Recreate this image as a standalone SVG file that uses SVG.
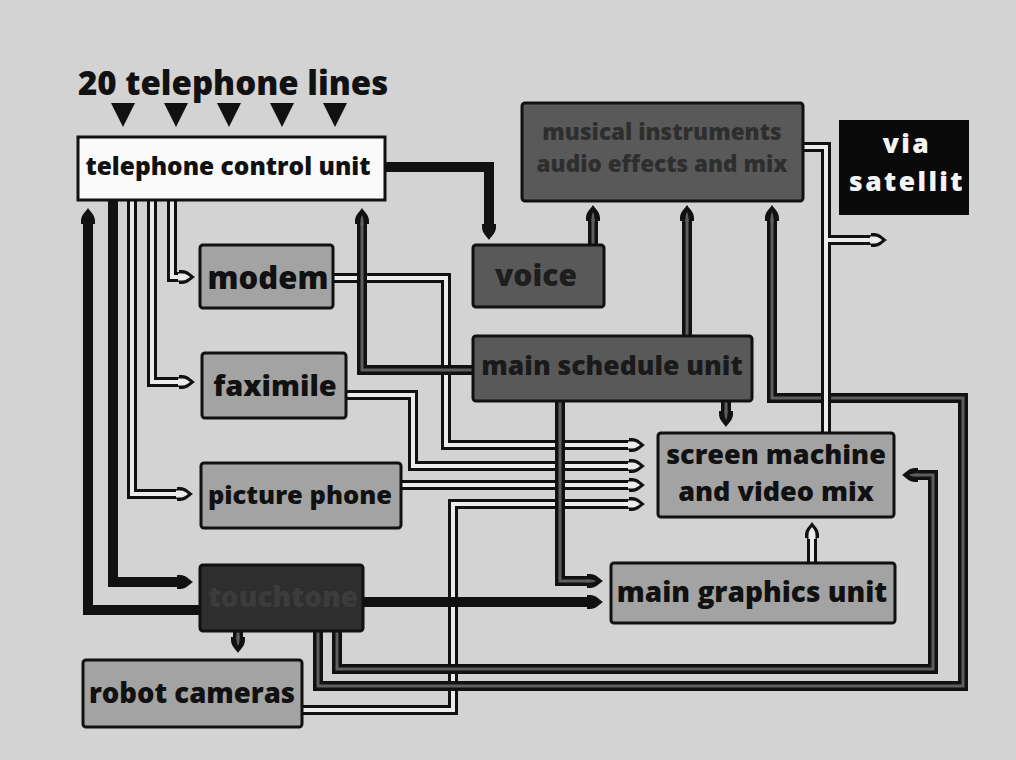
<svg xmlns="http://www.w3.org/2000/svg" width="1016" height="760" viewBox="0 0 1016 760">
<defs>
<style>
.k{fill:none;stroke:#111;stroke-width:10;stroke-linejoin:miter}
.w{fill:none;stroke:#ececec;stroke-width:4;stroke-linejoin:miter}
.g{fill:none;stroke:#5e5e5e;stroke-width:3;stroke-linejoin:miter}
.box{stroke:#111;stroke-width:3}
.lt{fill:#a3a3a3}
.dk{fill:#595959}
.t{font-family:"Open Sans","Noto Sans","Liberation Sans",sans-serif;font-weight:800;text-anchor:middle;fill:#111}
</style>
<marker id="hb" markerUnits="userSpaceOnUse" viewBox="-4 -10 20 20" markerWidth="20" markerHeight="20" refX="0" refY="0" orient="auto" overflow="visible">
<path d="M14,0 C10,-2.5 7,-7 1,-7 L-2,-7 L-2,7 L1,7 C7,7 10,2.5 14,0Z" fill="#111"/>
</marker>
<marker id="hw" markerUnits="userSpaceOnUse" viewBox="-4 -10 20 20" markerWidth="20" markerHeight="20" refX="0" refY="0" orient="auto" overflow="visible">
<path d="M9,0 C7,-1.5 5,-3.5 1,-3.5 L-3,-3.5 L-3,3.5 L1,3.5 C5,3.5 7,1.5 9,0Z" fill="#ececec"/>
</marker>
<marker id="hg" markerUnits="userSpaceOnUse" viewBox="-4 -10 20 20" markerWidth="20" markerHeight="20" refX="0" refY="0" orient="auto" overflow="visible">
<path d="M7,0 C5,-1 3,-1.5 0,-1.5 L-3,-1.5 L-3,1.5 L0,1.5 C3,1.5 5,1 7,0Z" fill="#5e5e5e"/>
</marker>
</defs>
<rect x="0" y="0" width="1016" height="760" fill="#d3d3d3"/>

<g id="title">
<text x="78" y="95" font-family="Open Sans, Noto Sans, Liberation Sans, sans-serif" font-weight="800" font-size="33" fill="#111">20 telephone lines</text>
<path d="M111,103 h24 l-12,24z M164,103 h24 l-12,24z M217,103 h24 l-12,24z M270,103 h24 l-12,24z M323,103 h24 l-12,24z" fill="#111"/>
</g>

<g id="connectors">
<g id="c-tele-modem"><path class="k" d="M172,200 V277 H181" marker-end="url(#hb)"/><path class="w" d="M172,200 V277 H181" marker-end="url(#hw)"/></g>
<g id="c-tele-fax"><path class="k" d="M152,200 V382 H181" marker-end="url(#hb)"/><path class="w" d="M152,200 V382 H181" marker-end="url(#hw)"/></g>
<g id="c-tele-pic"><path class="k" d="M132,200 V494 H179" marker-end="url(#hb)"/><path class="w" d="M132,200 V494 H179" marker-end="url(#hw)"/></g>
<g id="c-modem-screen"><path class="k" d="M333,278 H446 V445 H631" marker-end="url(#hb)"/><path class="w" d="M333,278 H446 V445 H631" marker-end="url(#hw)"/></g>
<g id="c-fax-screen"><path class="k" d="M346,395 H413 V466 H631" marker-end="url(#hb)"/><path class="w" d="M346,395 H413 V466 H631" marker-end="url(#hw)"/></g>
<g id="c-pic-screen"><path class="k" d="M401,485 H631" marker-end="url(#hb)"/><path class="w" d="M401,485 H631" marker-end="url(#hw)"/></g>
<g id="c-robot-screen"><path class="k" d="M302,710 H453 V504 H631" marker-end="url(#hb)"/><path class="w" d="M302,710 H453 V504 H631" marker-end="url(#hw)"/></g>
<g id="c-graphics-screen"><path class="k" d="M812,563 V536" marker-end="url(#hb)"/><path class="w" d="M812,563 V536" marker-end="url(#hw)"/></g>

<g id="c-tele-voice"><path class="k" d="M385,167 H489 V226" marker-end="url(#hb)"/></g>
<g id="c-touch-tele"><path class="k" d="M200,610 H88 V222" marker-end="url(#hb)"/></g>
<g id="c-tele-touch"><path class="k" d="M113,200 V582 H179" marker-end="url(#hb)"/></g>
<g id="c-touch-graphics"><path class="k" d="M363,602 H589" marker-end="url(#hb)"/></g>
<g id="c-voice-musical"><path class="k" d="M593,245 V219" marker-end="url(#hb)"/><path class="g" d="M593,245 V219" marker-end="url(#hg)"/></g>
<g id="c-sched-musical"><path class="k" d="M687,336 V219" marker-end="url(#hb)"/><path class="g" d="M687,336 V219" marker-end="url(#hg)"/></g>
<g id="c-touch-musical"><path class="k" d="M318,631 V686 H963 V398 H772 V219" marker-end="url(#hb)"/><path class="g" d="M318,631 V686 H963 V398 H772 V219" marker-end="url(#hg)"/></g>
<g id="c-touch-screen"><path class="k" d="M337,631 V669 H933 V475 H916" marker-end="url(#hb)"/><path class="g" d="M337,631 V669 H933 V475 H916" marker-end="url(#hg)"/></g>
<g id="c-touch-robot"><path class="k" d="M238,631 V639" marker-end="url(#hb)"/><path class="g" d="M238,631 V639" marker-end="url(#hg)"/></g>
<g id="c-sched-tele"><path class="k" d="M473,370 H362 V222" marker-end="url(#hb)"/><path class="g" d="M473,370 H362 V222" marker-end="url(#hg)"/></g>
<g id="c-sched-graphics"><path class="k" d="M560,402 V581 H589" marker-end="url(#hb)"/><path class="g" d="M560,402 V581 H589" marker-end="url(#hg)"/></g>
<g id="c-sched-screen"><path class="k" d="M726,402 V413" marker-end="url(#hb)"/><path class="g" d="M726,402 V413" marker-end="url(#hg)"/></g>

<g id="c-to-satellite"><path class="k" d="M803,147 H826 V433"/><path class="k" d="M826,240 H873" marker-end="url(#hb)"/><path class="w" d="M803,147 H826 V433"/><path class="w" d="M826,240 H873" marker-end="url(#hw)"/></g>
</g>

<g id="n-tele"><rect class="box" x="78" y="137" width="307" height="63" fill="#fafafa"/><text class="t" x="228" y="175" font-size="24.5">telephone control unit</text></g>
<g id="n-musical"><rect class="box dk" x="522" y="103" width="281" height="98" rx="3"/><text class="t" font-size="22.5" style="fill:#2e2e2e"><tspan x="662" y="140">musical instruments</tspan><tspan x="662" y="172">audio effects and mix</tspan></text></g>
<g id="n-satellite"><rect x="839" y="120" width="130" height="95" fill="#0a0a0a"/><text class="t" font-size="26.5" letter-spacing="2.4" style="fill:#f4f4f4"><tspan x="907" y="152.5">via</tspan><tspan x="907" y="190.5">satellit</tspan></text></g>
<g id="n-voice"><rect class="box dk" x="473" y="245" width="131" height="62" rx="3"/><text class="t" x="536" y="286" font-size="30" style="fill:#1e1e1e">voice</text></g>
<g id="n-modem"><rect class="box lt" x="200" y="245" width="133" height="63" rx="3"/><text class="t" x="268" y="289" font-size="31">modem</text></g>
<g id="n-faximile"><rect class="box lt" x="202" y="353" width="144" height="65" rx="3"/><text class="t" x="275" y="396" font-size="29">faximile</text></g>
<g id="n-picture"><rect class="box lt" x="201" y="463" width="200" height="65" rx="3"/><text class="t" x="300" y="504" font-size="25.5">picture phone</text></g>
<g id="n-touchtone"><rect class="box" x="200" y="565" width="163" height="66" rx="3" fill="#2e2e2e"/><text class="t" x="283" y="607" font-size="28" style="fill:#3c3c3c">touchtone</text></g>
<g id="n-robot"><rect class="box lt" x="83" y="660" width="219" height="67" rx="3"/><text class="t" x="192" y="703" font-size="27.5">robot cameras</text></g>
<g id="n-schedule"><rect class="box dk" x="473" y="336" width="279" height="65" rx="3"/><text class="t" x="612" y="375" font-size="26.5" style="fill:#1a1a1a">main schedule unit</text></g>
<g id="n-screen"><rect class="box lt" x="658" y="433" width="236" height="84" rx="3"/><text class="t" font-size="27"><tspan x="776" y="464">screen machine</tspan><tspan x="776" y="501">and video mix</tspan></text></g>
<g id="n-graphics"><rect class="box lt" x="611" y="563" width="284" height="60" rx="3"/><text class="t" x="752" y="602" font-size="28">main graphics unit</text></g>
</svg>
